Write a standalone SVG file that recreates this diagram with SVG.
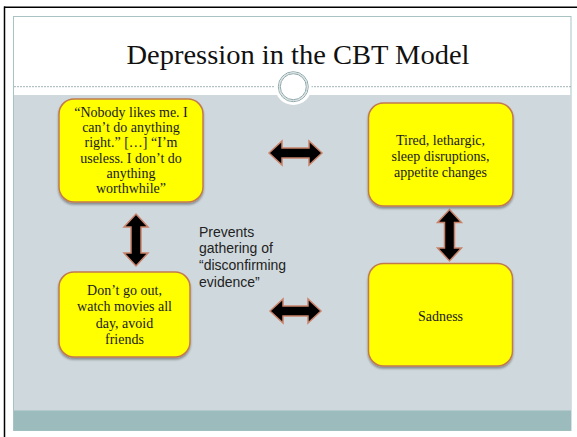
<svg xmlns="http://www.w3.org/2000/svg" width="577" height="437" viewBox="0 0 577 437">
<defs>
<style>
.box{fill:#ffff00;stroke:#c27a4e;stroke-width:1.5;filter:url(#sh)}
.bt{font-family:"Liberation Serif","DejaVu Serif",serif;font-size:14px;fill:#1a1a1a;text-anchor:middle}
.arr{fill:#000;stroke:#c9826a;stroke-width:1.5;stroke-linejoin:miter}
.lbl{font-family:"Liberation Sans",Arial,sans-serif;font-size:14px;fill:#222}
</style>
<filter id="sh" x="-10%" y="-10%" width="120%" height="125%">
<feDropShadow dx="0" dy="2" stdDeviation="1.2" flood-color="#000" flood-opacity="0.35"/>
</filter>
</defs>
<rect x="0" y="0" width="577" height="437" fill="#fff"/>
<g id="frame">
<line x1="4" y1="7.3" x2="577" y2="7.3" stroke="#000" stroke-width="1.5"/>
<line x1="4.5" y1="6.5" x2="4.5" y2="437" stroke="#000" stroke-width="1.5"/>
<rect x="13.5" y="16.5" width="557.5" height="414" fill="#fff" stroke="#a9c2c4" stroke-width="1"/>
<rect x="14" y="95" width="557" height="316" fill="#cfd9dd"/>
<rect x="14" y="410.5" width="557" height="20" fill="#9cbbbc"/>
<line x1="14" y1="86.7" x2="571" y2="86.7" stroke="#9fb3b7" stroke-width="1" stroke-dasharray="2 1"/>
<circle cx="293.3" cy="86.7" r="18.3" fill="#fff"/>
<circle cx="293.3" cy="86.7" r="15" fill="none" stroke="#8fa8ab" stroke-width="1"/>
<circle cx="293.3" cy="86.7" r="14" fill="none" stroke="#d5e0e1" stroke-width="1"/>
<circle cx="293.3" cy="86.7" r="13" fill="#fff" stroke="#8fa8ab" stroke-width="1"/>
<text x="298" y="63.5" text-anchor="middle" font-family="'Liberation Serif','DejaVu Serif',serif" font-size="28" fill="#111" textLength="343" lengthAdjust="spacingAndGlyphs">Depression in the CBT Model</text>
</g>
<g id="connectors">
<polygon class="arr" points="269,153 282,141 282,148 309,148 309,141 322,153 309,165 309,158 282,158 282,165"/>
<polygon class="arr" points="270,311 283,299 283,306 308,306 308,299 321,311 308,323 308,316 283,316 283,323"/>
<polygon class="arr" points="136,214 148,227 141,227 141,253 148,253 136,266 124,253 131,253 131,227 124,227"/>
<polygon class="arr" points="449.5,209.5 461.5,222.5 454.5,222.5 454.5,248 461.5,248 449.5,261 437.5,248 444.5,248 444.5,222.5 437.5,222.5"/>
</g>
<g id="label-prevents">
<text class="lbl" x="199" y="236.7">Prevents</text>
<text class="lbl" x="199" y="253.3">gathering of</text>
<text class="lbl" x="199" y="270">“disconfirming</text>
<text class="lbl" x="199" y="286.7">evidence”</text>
</g>
<g id="node-thoughts">
<rect class="box" x="59" y="99" width="144" height="103" rx="15"/>
<text class="bt" x="131" y="116.5">“Nobody likes me. I</text>
<text class="bt" x="131" y="131.9">can’t do anything</text>
<text class="bt" x="131" y="147.3">right.” […] “I’m</text>
<text class="bt" x="131" y="162.6">useless. I don’t do</text>
<text class="bt" x="131" y="178">anything</text>
<text class="bt" x="131" y="193.3">worthwhile”</text>
</g>
<g id="node-physical">
<rect class="box" x="368.5" y="103" width="144.5" height="103" rx="15"/>
<text class="bt" x="440.5" y="144.5">Tired, lethargic,</text>
<text class="bt" x="440.5" y="160.7">sleep disruptions,</text>
<text class="bt" x="440.5" y="177">appetite changes</text>
</g>
<g id="node-behaviour">
<rect class="box" x="59" y="272" width="131" height="85" rx="15"/>
<text class="bt" x="124.5" y="295">Don’t go out,</text>
<text class="bt" x="124.5" y="311">watch movies all</text>
<text class="bt" x="124.5" y="327.5">day, avoid</text>
<text class="bt" x="124.5" y="344">friends</text>
</g>
<g id="node-emotion">
<rect class="box" x="368.5" y="263.5" width="144" height="102.5" rx="15"/>
<text class="bt" x="440.5" y="320.7">Sadness</text>
</g>
</svg>
